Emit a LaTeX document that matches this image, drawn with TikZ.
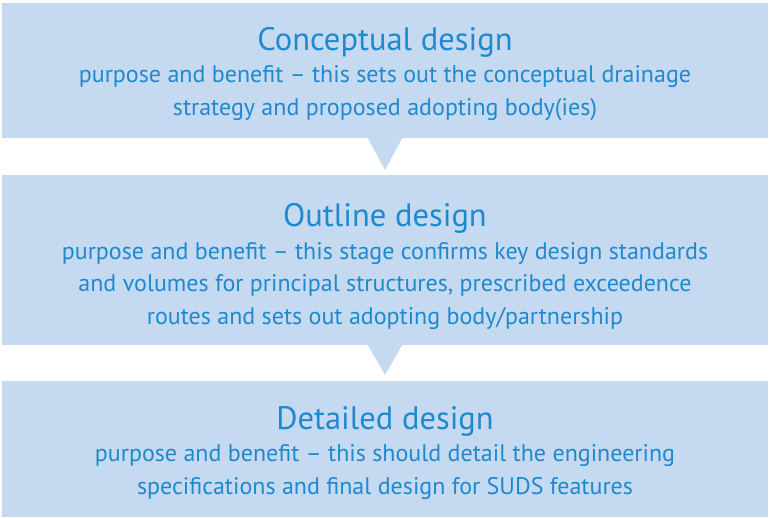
\documentclass[tikz,border=0pt]{standalone}
\usepackage{fontspec}
\setmainfont{PT Sans}
\usepackage{tikz}

\definecolor{stagefill}{RGB}{197,217,240}
\definecolor{stagetext}{RGB}{30,138,206}
\newcommand{\stagehead}[1]{{\fontsize{32.5}{33}\selectfont #1}}

\begin{document}
\begin{tikzpicture}[x=1pt,y=1pt,
  stage/.style={fill=stagefill,draw=none,inner sep=0pt,outer sep=0pt,minimum width=766pt},
  stagetxt/.style={align=center,text=stagetext,inner sep=0pt,font=\fontsize{24}{32.5}\selectfont},
  pointer/.style={fill=stagefill,draw=none}]
  \useasboundingbox (0,0) rectangle (770,517);
  % the three boxes
  \node[stage,minimum height=135pt] (concept) at (385,446.5) {};
  \node[stage,minimum height=170pt] (outline) at (385,257) {};
  \node[stage,minimum height=136pt] (detail) at (385,68) {};
  % their texts
  \node[stagetxt] (concept-txt) at ([yshift=-3.5pt]concept.center)
    {\stagehead{Conceptual design}\\
     purpose and benefit -- this sets out the conceptual drainage\\
     strategy and proposed adopting body(ies)};
  \node[stagetxt] (outline-txt) at ([yshift=-6.5pt]outline.center)
    {\stagehead{Outline design}\\
     purpose and benefit -- this stage confirms key design standards\\
     and volumes for principal structures, prescribed exceedence\\
     routes and sets out adopting body/partnership};
  \node[stagetxt] (detail-txt) at ([yshift=-4pt]detail.center)
    {\stagehead{Detailed design}\\
     purpose and benefit -- this should detail the engineering\\
     specifications and final design for SUDS features};
  % pointers between the boxes
  \coordinate (tipA) at ([yshift=-32pt]concept.south);
  \coordinate (tipB) at ([yshift=-30pt]outline.south);
  \fill[pointer] ([xshift=-17.5pt,yshift=0.5pt]concept.south) -- ([xshift=17.5pt,yshift=0.5pt]concept.south) -- (tipA) -- cycle;
  \fill[pointer] ([xshift=-17.5pt,yshift=0.5pt]outline.south) -- ([xshift=17.5pt,yshift=0.5pt]outline.south) -- (tipB) -- cycle;
\end{tikzpicture}
\end{document}
